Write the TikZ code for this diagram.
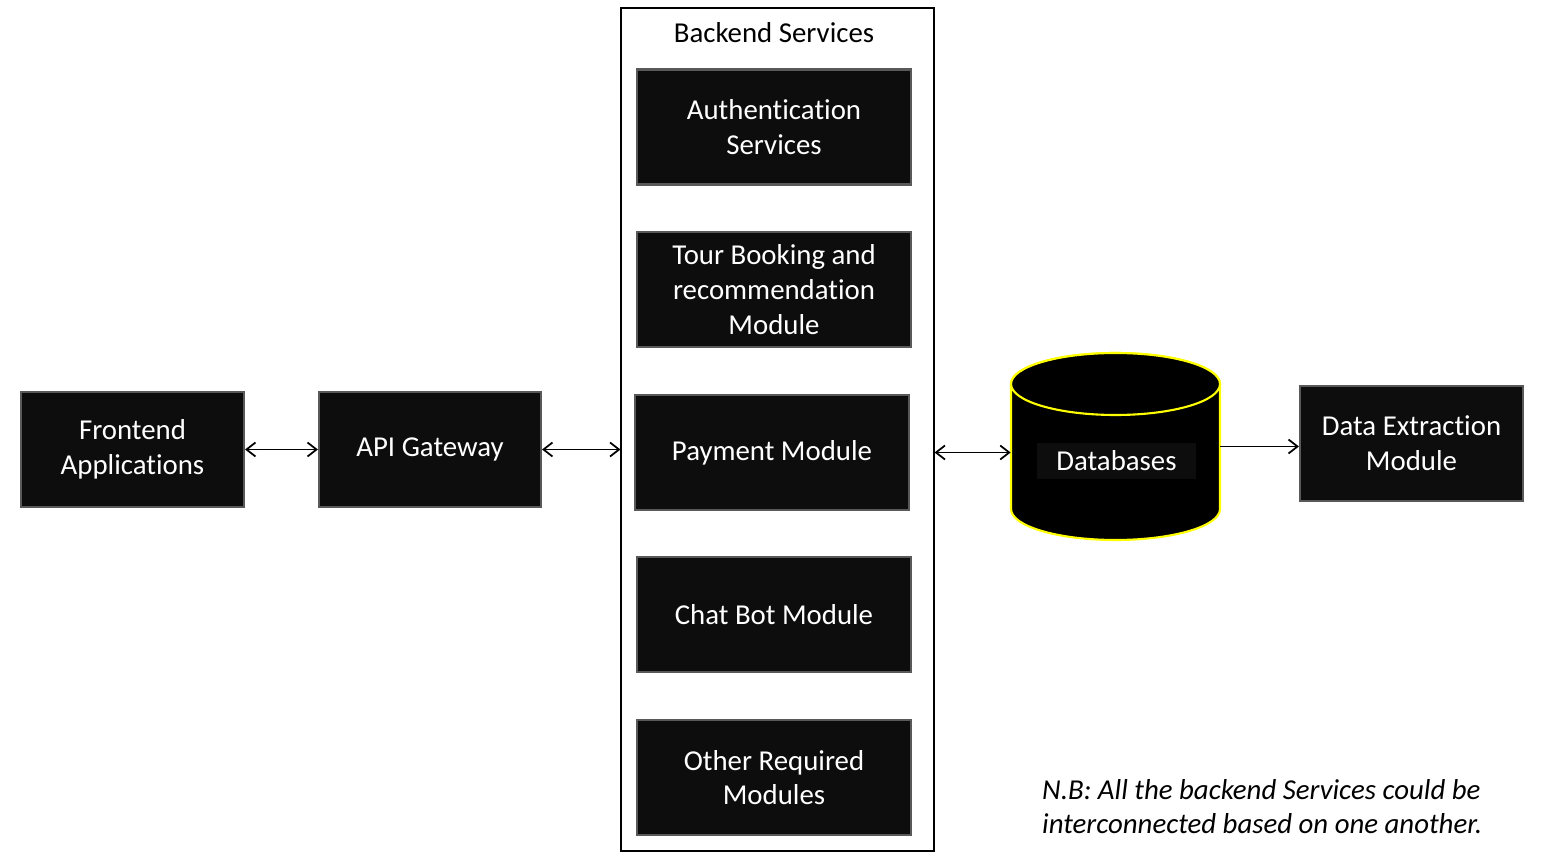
\documentclass[tikz,border=0pt]{standalone}
\usepackage{fontspec}
\setmainfont{Carlito}[Ligatures=NoCommon]
\usepackage{tikz}
\usetikzlibrary{arrows.meta,positioning}

\definecolor{boxfill}{HTML}{0D0D0D}
\definecolor{boxline}{HTML}{595959}
\definecolor{dbline}{HTML}{FFFF00}

\begin{document}
\begin{tikzpicture}[
    box/.style={draw=boxline, line width=1.2pt, fill=boxfill, text=white,
                minimum width=4.46cm, minimum height=2.3cm, inner sep=0pt,
                align=center, font=\fontsize{16.4}{19.8}\selectfont},
    module/.style={box, minimum width=5.48cm},
    arrow/.style={{Straight Barb[length=1.8mm, width=2.8mm]}-{Straight Barb[length=1.8mm, width=2.8mm]}, line width=1pt},
    onearrow/.style={-{Straight Barb[length=1.8mm, width=2.8mm]}, line width=1pt}
]
\useasboundingbox (0,0) rectangle (30.92,-17.36);

% Container
\node[draw, line width=0.6pt, minimum width=6.26cm, minimum height=16.86cm] (backend) at (15.55,-8.59) {};
\node[font=\fontsize{16.4}{19.8}\selectfont] (title) at (15.48,-0.66) {Backend Services};

% Nodes
\node[box] (front) at (2.65,-8.99) {Frontend\\Applications};
\node[box, minimum width=4.44cm] (api) at (8.60,-8.99) {API Gateway};
\node[module] (auth) at (15.48,-2.54) {Authentication\\Services};
\node[module] (tour) at (15.48,-5.79) {Tour Booking and\\recommendation\\Module};
\node[module] (pay) at (15.44,-9.05) {Payment Module};
\node[module] (chat) at (15.48,-12.29) {Chat Bot Module};
\node[module] (other) at (15.48,-15.55) {Other Required\\Modules};
\node[box] (extract) at (28.23,-8.87) {Data Extraction\\Module};

% Database cylinder
\draw[dbline, line width=1.2pt, fill=black] (20.22,-7.68) -- (20.22,-10.18)
    arc[start angle=180, end angle=360, x radius=2.09cm, y radius=0.62cm]
    -- (24.40,-7.68)
    arc[start angle=0, end angle=180, x radius=2.09cm, y radius=0.62cm] -- cycle;
\draw[dbline, line width=1.2pt, fill=black] (22.31,-7.68) ellipse[x radius=2.09cm, y radius=0.62cm];
\node[minimum width=4.18cm, minimum height=3.74cm, inner sep=0pt] (db) at (22.31,-8.93) {};
\node[fill=boxfill, text=white, minimum width=3.18cm, minimum height=0.72cm, inner sep=0pt,
      font=\fontsize{16.4}{19.8}\selectfont] (dblabel) at (22.33,-9.22) {Databases};

% Arrows
\draw[arrow] (front.east) -- (api.west);
\draw[arrow] (api.east) -- (api -| backend.west);
\draw[arrow] (pay -| backend.east) -- (pay -| db.west);
\draw[onearrow] (db.east) -- (db.east -| extract.west);

% Note
\node[anchor=west, align=left, font=\fontsize{16.4}{19.8}\selectfont\itshape] (note) at (20.72,-16.13)
    {N.B: All the backend Services could be\\interconnected based on one another.};

\end{tikzpicture}
\end{document}
